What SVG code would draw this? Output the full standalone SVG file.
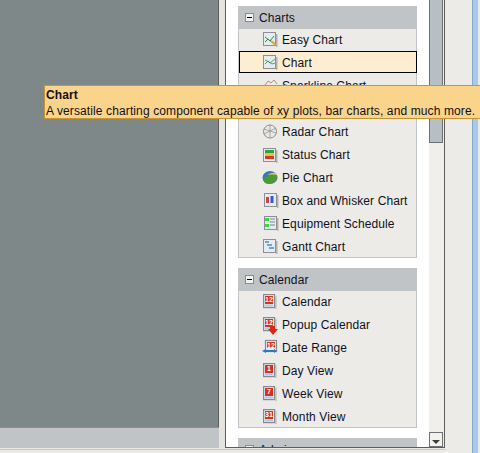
<svg xmlns="http://www.w3.org/2000/svg" width="480" height="453" viewBox="0 0 480 453">
<style>
text{font-family:"Liberation Sans",Arial,sans-serif;font-size:12px;fill:#10101c;letter-spacing:0.1px}
text.num{font-size:7px;font-weight:bold;fill:#ffffff;text-anchor:middle;letter-spacing:0}
.hdr{fill:#c0c4c6}
.body{fill:#ecebe8;stroke:#c0c4c6;stroke-width:1}
.page{fill:#e4ecf2;stroke:#8c9094;stroke-width:1}
.cal{fill:#e8ecf2;stroke:#868a90;stroke-width:1.200}
</style>
<defs>
<g id="minus"><rect x="0.5" y="0.5" width="8" height="8" fill="#f2f2ee" stroke="#8c8c80"/><rect x="2" y="4" width="5" height="1" fill="#000"/></g>
<g id="calicon"><rect x="0.6" y="0.6" width="11" height="13" class="cal"/><rect x="2" y="2" width="8" height="8" fill="#d8321e"/><rect x="2" y="10.500" width="8" height="2" fill="#a8c8ec"/><rect x="12.200" y="2" width="1.300" height="13" fill="#b8bab8"/></g>
<g id="page"><rect x="0.5" y="0.5" width="12" height="13" class="page"/><rect x="13" y="2" width="1.500" height="13" fill="#b0b2b0"/></g>
</defs>

<rect id="canvas" width="480" height="453" fill="#ecebe8"/>
<rect x="0" y="0" width="218" height="427" fill="#7f8888"/>
<rect x="218" y="0" width="1" height="428" fill="#5a5e5a"/>
<rect x="0" y="427" width="219" height="1" fill="#8c9294"/>
<rect x="0" y="428" width="219" height="21" fill="#c0c4c6"/>
<rect x="219" y="0" width="6" height="449" fill="#e4e4e0"/>
<rect x="225" y="0" width="1" height="448" fill="#5e5e58"/>
<rect x="226" y="0" width="203" height="447" fill="#ffffff"/>

<g id="scrollbar">
<rect x="429" y="0" width="15" height="447" fill="#f0efeb"/>
<rect x="429" y="0" width="14" height="143" fill="#b6bfc3"/>
<rect x="429" y="0" width="1" height="143" fill="#6c7074"/>
<rect x="442" y="0" width="1" height="143" fill="#6c7074"/>
<rect x="429" y="142" width="14" height="1" fill="#6c7074"/>
<rect x="444" y="0" width="1" height="448" fill="#5e5e58"/>
<rect x="429.500" y="432.500" width="13" height="14" fill="#f2f1ee" stroke="#6c7074"/>
<path d="M432 440h8l-4 4z" fill="#3c3c3c"/>
</g>
<rect x="472" y="0" width="1" height="453" fill="#88a8cc"/>
<rect x="473" y="0" width="5" height="453" fill="#a8c8ec"/>

<g id="group-charts">
<rect class="body" x="238.500" y="28.500" width="178" height="229"/>
<rect class="hdr" x="238" y="6" width="179" height="22"/>
<use href="#minus" x="245" y="13"/>
<text x="259" y="22">Charts</text>
</g>

<g id="item-easy-chart"><use href="#page" x="263" y="32"/><path d="M265 42l3-3 2 2 4-5M265 37l4 3 3 2" fill="none" stroke="#3a8a3a"/><path d="M271 41l5 4" stroke="#d8a820" stroke-width="2"/><text x="282" y="44">Easy Chart</text></g>
<g id="item-chart"><use href="#page" x="263" y="55"/><text x="282" y="67">Chart</text></g>
<g id="item-sparkline"><path d="M265 85l3-4 3 2 3-3 3 4" fill="none" stroke="#c08a80"/><text x="282" y="90">Sparkline Chart</text></g>

<g id="item-radar"><circle cx="270" cy="131.500" r="6.500" fill="#e8e8e4" stroke="#8c8c88"/><path d="M270 125v12M264 129l12 4M264 134l12-6" stroke="#8c8c88" stroke-width="0.700"/><text x="282" y="136">Radar Chart</text></g>
<g id="item-status"><use href="#page" x="263" y="148"/><rect x="265" y="150" width="9" height="3" fill="#2ea04a"/><rect x="265" y="153" width="9" height="3" fill="#e8c820"/><rect x="265" y="156" width="9" height="3" fill="#d03a2a"/><text x="282" y="159">Status Chart</text></g>
<g id="item-pie"><ellipse cx="270" cy="177.500" rx="7.500" ry="6.500" fill="#2e7cc0"/><path d="M263 180q6-7 14-5 1 4-3 7-6 3-9 1z" fill="#4e9a2e"/><path d="M267 175q5-3 9-2l1 2q-5-1-10 0z" fill="#e8c440"/><text x="282" y="182">Pie Chart</text></g>
<g id="item-box-whisker"><use href="#page" x="264" y="193"/><rect x="266" y="197" width="3" height="6" fill="#d04050"/><rect x="270.500" y="196" width="3" height="7" fill="#3a5ac8"/><text x="282" y="205">Box and Whisker Chart</text></g>
<g id="item-equipment"><use href="#page" x="264" y="216"/><rect x="265" y="218" width="4" height="3" fill="#30e040"/><rect x="265" y="224" width="4" height="3" fill="#30e040"/><path d="M270 219h5M270 222h5M270 225h5" stroke="#808488"/><text x="282" y="228">Equipment Schedule</text></g>
<g id="item-gantt"><use href="#page" x="263" y="239"/><path d="M265 242h4M267 245h5M269 248h5" stroke="#4a8ac8" stroke-width="1.500"/><text x="282" y="251">Gantt Chart</text></g>

<g id="group-calendar">
<rect class="body" x="238.500" y="290.500" width="178" height="137"/>
<rect class="hdr" x="238" y="268" width="179" height="22"/>
<use href="#minus" x="245" y="275"/>
<text x="259" y="284">Calendar</text>
</g>
<g id="item-calendar"><use href="#calicon" x="263" y="294"/><text class="num" x="269" y="302">12</text><text x="282" y="306">Calendar</text></g>
<g id="item-popup-calendar"><use href="#calicon" x="263" y="317"/><text class="num" x="269" y="325">12</text><path d="M270 326h5v3h3l-5 6-5-6h2z" fill="#d8281c"/><text x="282" y="329">Popup Calendar</text></g>
<g id="item-date-range"><rect x="265.500" y="340.500" width="11" height="11" class="cal"/><rect x="267" y="342" width="8" height="6" fill="#d8321e"/><text class="num" x="271" y="347.500">12</text><path d="M262 351l4-2v1h8v-1l3 2-3 2v-1h-8v1z" fill="#2e78c8"/><text x="282" y="352">Date Range</text></g>
<g id="item-day-view"><use href="#calicon" x="263" y="363"/><text class="num" x="269" y="371">1</text><text x="282" y="375">Day View</text></g>
<g id="item-week-view"><use href="#calicon" x="263" y="386"/><text class="num" x="269" y="394">7</text><text x="282" y="398">Week View</text></g>
<g id="item-month-view"><use href="#calicon" x="263" y="409"/><text class="num" x="269" y="417">31</text><text x="282" y="421">Month View</text></g>

<g id="group-admin">
<rect class="hdr" x="238" y="438" width="179" height="10"/>
<use href="#minus" x="245" y="445"/>
<text x="259" y="454">Admin</text>
</g>

<g id="bottom-edge">
<rect x="226" y="447" width="219" height="1" fill="#5e5e58"/>
<rect x="0" y="448" width="472" height="5" fill="#ecebe8"/>
<rect x="0" y="449" width="445" height="1" fill="#c8c8c4"/>
</g>

<g id="selected-row">
<rect x="239.500" y="51.500" width="177" height="21" fill="#fdeed2" stroke="#000"/>
<use href="#page" x="263" y="55"/>
<path d="M265 64l3-3 2 2 5-4M265 60l4 2 3 2 3-1" fill="none" stroke="#3a8a4a" stroke-width="0.800"/>
<text x="282" y="67">Chart</text>
</g>

<g id="tooltip">
<rect x="44.500" y="85.500" width="436" height="33" fill="#fad48a" stroke="#c9952f"/>
<text x="46" y="99" style="font-weight:bold">Chart</text>
<text x="46" y="115" style="letter-spacing:0.115px">A versatile charting component capable of xy plots, bar charts, and much more.</text>
</g>
</svg>
